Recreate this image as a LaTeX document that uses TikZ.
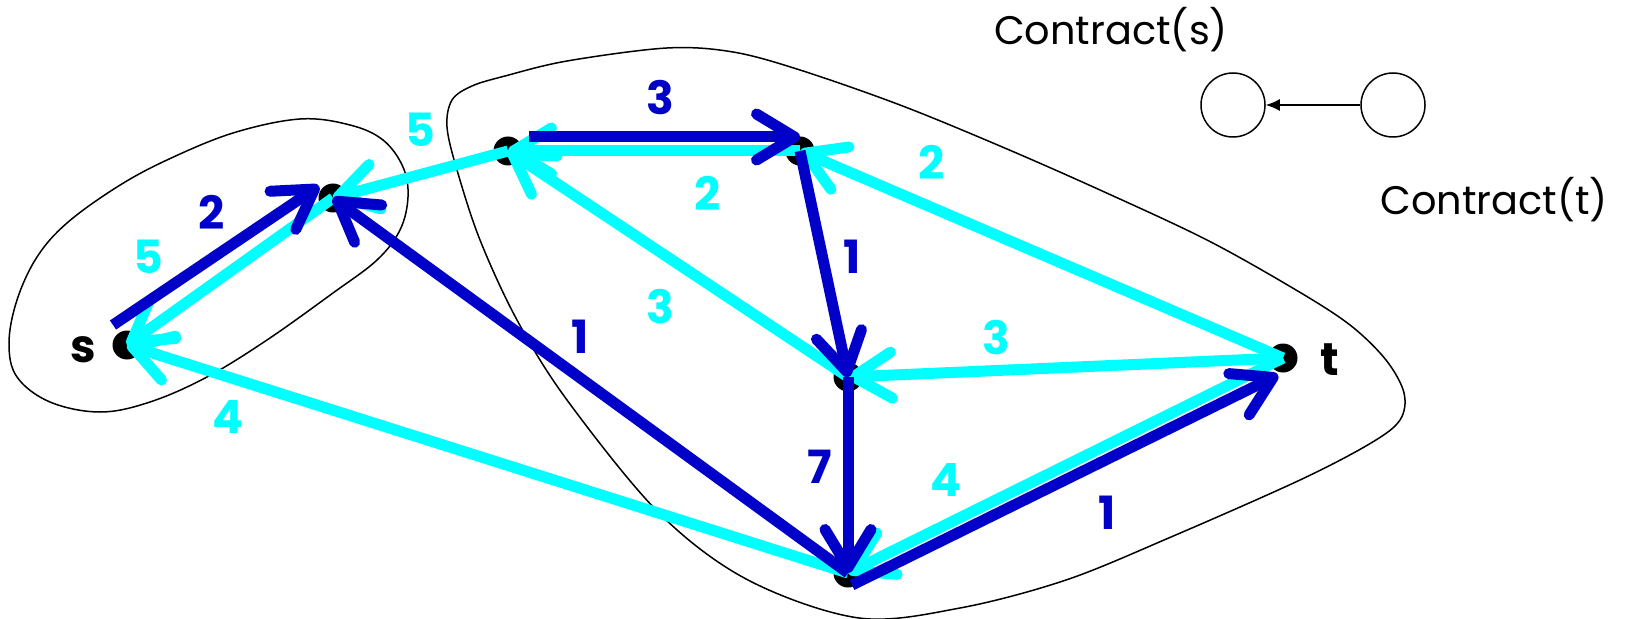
\documentclass[tikz,border=0pt]{standalone}
\usepackage{fontspec}
\setmainfont{Poppins}
\usetikzlibrary{arrows.meta}
\definecolor{eblue}{RGB}{0,0,200}
\definecolor{ecyan}{RGB}{0,255,255}
\begin{document}
\begin{tikzpicture}[x=1bp,y=-1bp,
  dot/.style={circle,fill=black,inner sep=0pt,minimum size=29bp},
  edge/.style={line width=11bp,-{Straight Barb[length=38bp,width=46bp,line cap=round,line join=round]}},
  fwd/.style={edge,draw=eblue},
  back/.style={edge,draw=ecyan},
  wlab/.style={font=\fontsize{46}{46}\selectfont\bfseries,inner sep=0pt},
  blab/.style={wlab,text=eblue},
  clab/.style={wlab,text=ecyan},
  vlab/.style={wlab,text=black},
  blob/.style={draw=black,line width=1.5bp},
  smallc/.style={circle,draw=black,line width=1.5bp,minimum size=64bp,inner sep=0pt},
  ctext/.style={font=\fontsize{40}{40}\selectfont,inner sep=0pt}
]
\useasboundingbox (0,0) rectangle (1643,619);

% contracted sets
\draw[blob] plot[smooth cycle,tension=0.6] coordinates {
  (9,343) (17,300) (37,257) (67,223) (117,187) (167,160) (233,133) (300,119)
  (350,125) (383,140) (403,167) (408,197) (400,230) (377,260) (333,293)
  (267,340) (207,377) (150,402) (100,412) (50,402) (17,377)};
\draw[blob] plot[smooth cycle,tension=0.55] coordinates {
  (452,100) (472,86) (505,76) (567,61) (667,48) (733,52) (800,70) (900,105)
  (1000,146) (1100,190) (1207,240) (1296,290) (1350,325) (1386,360) (1404,393)
  (1400,420) (1371,443) (1300,480) (1171,537) (1066,580) (960,608) (859,618)
  (748,580) (659,513) (567,400) (517,320) (480,240) (457,170) (447,127)};

% vertices
\node[dot] (s) at (127,345) {};
\node[dot] (a) at (333,198) {};
\node[dot] (b) at (508,151) {};
\node[dot] (c) at (800,151) {};
\node[dot] (d) at (848,377) {};
\node[dot] (e) at (848,573) {};
\node[dot] (t) at (1283,358) {};

% cyan edges
\draw[back] (a.center) -- (s.center);
\draw[back] (b.center) -- (a.center);
\draw[back] (c.center) -- (b.center);
\draw[back] (d.center) -- (b.center);
\draw[back] (t.center) -- (c.center);
\draw[back] (t.center) -- (d.center);
\draw[back] (t.center) -- (e.center);
\draw[back] (e.center) -- (s.center);

% blue edges
\draw[fwd] ([shift={(-14,-20)}]s.center) -- ([shift={(-14,-12)}]a.center);
\draw[fwd] ([shift={(21,-14)}]b.center) -- ([shift={(0,-14)}]c.center);
\draw[fwd] (c.center) -- (d.center);
\draw[fwd] (d.center) -- (e.center);
\draw[fwd] (e.center) -- (a.center);
\draw[fwd] ([shift={(4,12)}]e.center) -- ([shift={(-5,17)}]t.center);

% weights
\node[blab] (w1) at (212,212) {2};
\node[clab] (w2) at (148,257) {5};
\node[clab] (w3) at (420,130) {5};
\node[blab] (w4) at (660,98) {3};
\node[clab] (w5) at (708,193) {2};
\node[clab] (w6) at (932,162) {2};
\node[blab] (w7) at (852,257) {1};
\node[clab] (w8) at (660,307) {3};
\node[blab] (w9) at (580,337) {1};
\node[clab] (w10) at (996,338) {3};
\node[blab] (w11) at (820,467) {7};
\node[clab] (w12) at (946,480) {4};
\node[blab] (w13) at (1107,513) {1};
\node[clab] (w14) at (228,417) {4};

% vertex names
\node[vlab] (ls) at (83,350) {s};
\node[vlab] (lt) at (1330,360) {t};

% contraction sketch
\node[ctext] (cts) at (1111,30) {Contract(s)};
\node[smallc] (cs) at (1233,105) {};
\node[smallc] (ct) at (1393,105) {};
\draw[line width=1.5bp,-{Latex[length=14bp,width=12bp]}] (ct) -- (cs);
\node[ctext] (ctt) at (1494,200) {Contract(t)};
\end{tikzpicture}
\end{document}
